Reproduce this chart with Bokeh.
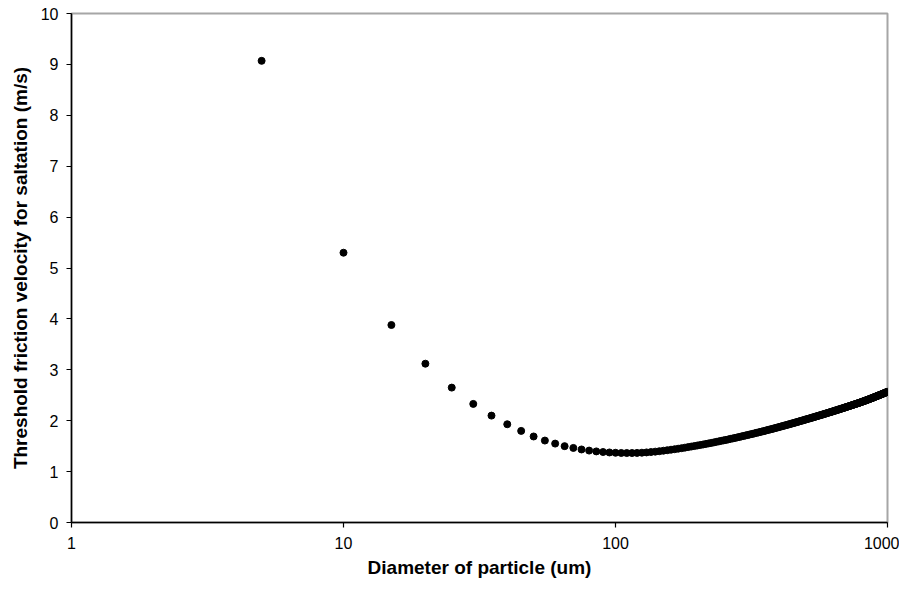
from bokeh.plotting import figure
from bokeh.models import FixedTicker, BasicTickFormatter, Range1d, ColumnDataSource
from bokeh.embed import file_html
from bokeh.resources import INLINE

# Particle diameters (um): sampled every 5 um from 5 to 1000
diameter = list(range(5, 1001, 5))

# Threshold friction velocity for saltation (m/s)
velocity = [
    9.07, 5.30, 3.88, 3.12, 2.65, 2.33, 2.10, 1.93, 1.80, 1.69,
    1.61, 1.55, 1.50, 1.465, 1.435, 1.413, 1.397, 1.385, 1.376, 1.370,
    1.366, 1.365, 1.365, 1.367, 1.371, 1.377, 1.384, 1.392, 1.401, 1.410,
    1.420, 1.430, 1.440, 1.450, 1.460, 1.471, 1.481, 1.492, 1.502, 1.513,
    1.523, 1.533, 1.544, 1.554, 1.564, 1.574, 1.584, 1.594, 1.604, 1.614,
    1.623, 1.633, 1.643, 1.652, 1.662, 1.671, 1.680, 1.690, 1.699, 1.708,
    1.717, 1.726, 1.735, 1.743, 1.752, 1.761, 1.769, 1.778, 1.786, 1.795,
    1.803, 1.812, 1.820, 1.828, 1.836, 1.844, 1.852, 1.860, 1.868, 1.876,
    1.884, 1.892, 1.899, 1.907, 1.915, 1.922, 1.930, 1.937, 1.945, 1.952,
    1.959, 1.966, 1.974, 1.981, 1.988, 1.995, 2.002, 2.009, 2.016, 2.023,
    2.030, 2.036, 2.043, 2.049, 2.056, 2.062, 2.069, 2.075, 2.082, 2.088,
    2.094, 2.101, 2.107, 2.113, 2.119, 2.125, 2.131, 2.137, 2.143, 2.149,
    2.155, 2.161, 2.167, 2.173, 2.178, 2.184, 2.190, 2.196, 2.201, 2.207,
    2.213, 2.218, 2.224, 2.229, 2.235, 2.240, 2.246, 2.251, 2.257, 2.262,
    2.267, 2.273, 2.278, 2.283, 2.289, 2.294, 2.299, 2.304, 2.310, 2.315,
    2.320, 2.325, 2.330, 2.335, 2.340, 2.345, 2.350, 2.355, 2.360, 2.365,
    2.370, 2.375, 2.381, 2.386, 2.391, 2.396, 2.401, 2.406, 2.412, 2.417,
    2.422, 2.427, 2.432, 2.438, 2.443, 2.448, 2.453, 2.458, 2.464, 2.469,
    2.474, 2.479, 2.484, 2.489, 2.494, 2.499, 2.504, 2.509, 2.514, 2.519,
    2.524, 2.529, 2.534, 2.539, 2.544, 2.549, 2.554, 2.559, 2.564, 2.569,
]

x_ticks = [1, 10, 100, 1000]
y_ticks = [0, 1, 2, 3, 4, 5, 6, 7, 8, 9, 10]

x_title = "Diameter of particle (um)"
y_title = "Threshold friction velocity for saltation (m/s)"

FONT = "Liberation Sans"

p = figure(
    width=899, height=582,
    x_axis_type="log",
    x_range=Range1d(1, 1000), y_range=Range1d(0, 10),
    output_backend="svg", toolbar_location=None,
    min_border_left=71, min_border_right=12,
    min_border_top=13, min_border_bottom=60,
)

src = ColumnDataSource(dict(x=diameter, y=velocity))
p.scatter("x", "y", source=src, size=7, fill_color="black", line_color="black")

p.xgrid.visible = False
p.ygrid.visible = False
p.outline_line_color = "#a6a6a6"
p.outline_line_width = 2
p.background_fill_color = "white"
p.border_fill_color = "white"

p.xaxis.ticker = FixedTicker(ticks=x_ticks)
p.xaxis.formatter = BasicTickFormatter()
p.yaxis.ticker = FixedTicker(ticks=y_ticks)

for ax in (p.xaxis, p.yaxis):
    ax.axis_line_color = "black"
    ax.axis_line_width = 1.5
    ax.major_tick_line_color = "black"
    ax.major_tick_line_width = 1.2
    ax.major_tick_in = 0
    ax.major_tick_out = 5
    ax.minor_tick_line_color = None
    ax.major_label_text_font = FONT
    ax.major_label_text_font_size = "16px"
    ax.major_label_text_color = "black"
    ax.axis_label_text_font = FONT
    ax.axis_label_text_font_style = "bold"
    ax.axis_label_text_font_size = "19px"
    ax.axis_label_text_color = "black"

p.xaxis.axis_label = x_title
p.yaxis.axis_label = y_title
p.xaxis.major_label_standoff = 9
p.yaxis.major_label_standoff = 8
p.xaxis.axis_label_standoff = 5
p.yaxis.axis_label_standoff = 7

open("out.html", "w").write(file_html(p, INLINE))
